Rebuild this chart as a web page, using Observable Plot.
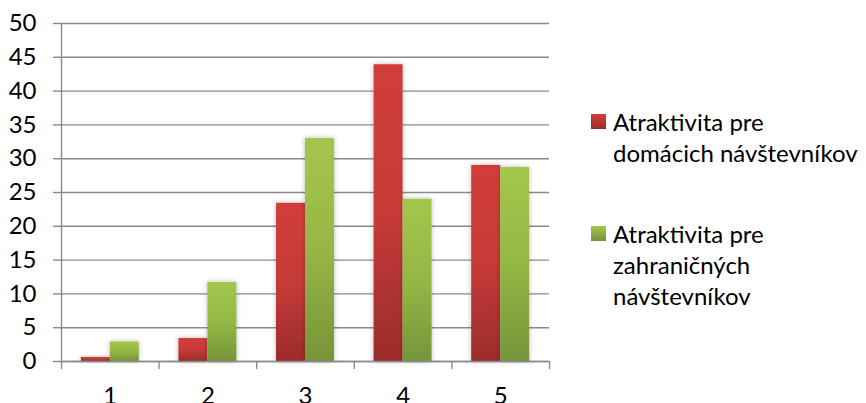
<!DOCTYPE html>
<html>
<head>
<meta charset="utf-8">
<script src="https://cdn.jsdelivr.net/npm/d3@7"></script>
<script src="https://cdn.jsdelivr.net/npm/@observablehq/plot@0.6"></script>
<style>
  html, body { margin: 0; padding: 0; background: #fff; }
  #wrap { position: relative; width: 866px; height: 403px; overflow: hidden; font-family: Lato, "Open Sans", sans-serif; }
  #legend { position: absolute; left: 591px; top: 106px; color: #000; font-size: 24px; line-height: 31px; }
  .item { display: flex; align-items: flex-start; white-space: nowrap; }
  .item + .item { margin-top: 50px; }
  .sw { width: 15px; height: 15px; margin-top: 8px; margin-right: 7px; flex: none; }
</style>
</head>
<body>
<div id="wrap"></div>
<script>
// Hodnotenie atraktivity (stupne 1–5), podiel respondentov v %
const categories = [1, 2, 3, 4, 5];
const domestic = [0.6, 3.4, 23.4, 43.9, 29.0];
const foreign = [2.9, 11.7, 33.0, 24.0, 28.7];
const seriesNames = ["Atraktivita pre domácich návštevníkov", "Atraktivita pre zahraničných návštevníkov"];
const seriesLines = [["Atraktivita pre", "domácich návštevníkov"], ["Atraktivita pre", "zahraničných", "návštevníkov"]];
const yTicks = [0, 5, 10, 15, 20, 25, 30, 35, 40, 45, 50];

const gray = "#8a8a8a";
const barWidth = 0.297; // share of one category slot taken by each bar

const rows = categories.flatMap((c, i) => [
  {cat: c, series: seriesNames[0], value: domestic[i], side: -1},
  {cat: c, series: seriesNames[1], value: foreign[i], side: 0}
]);
const boundaries = [0.5, ...categories.map(c => c + 0.5)];

const chart = Plot.plot({
  width: 866,
  height: 403,
  marginLeft: 61,
  marginRight: 317,
  marginTop: 23,
  marginBottom: 42,
  style: {fontFamily: "Lato, 'Open Sans', sans-serif", fontSize: "24px", color: "#000", background: "#fff"},
  x: {domain: [0.5, 5.5], axis: null},
  y: {domain: [0, 50], axis: null},
  marks: [
    Plot.gridY(yTicks, {stroke: gray, strokeOpacity: 1, strokeWidth: 1.4}),
    Plot.axisY(yTicks, {tickSize: 8, tickPadding: 17, label: null, stroke: gray, strokeOpacity: 1, strokeWidth: 1.4, fill: "#000", fontSize: 24}),
    Plot.ruleX([0.5], {stroke: gray, strokeWidth: 1.4}),
    Plot.axisX(boundaries, {tickSize: 8, label: null, tickFormat: () => "", stroke: gray, strokeOpacity: 1, strokeWidth: 1.4}),
    Plot.axisX(categories, {tickSize: 0, tickPadding: 25, label: null, fill: "#000", fontSize: 24}),
    Plot.rectY(rows, {
      x1: d => d.cat + d.side * barWidth,
      x2: d => d.cat + (d.side + 1) * barWidth,
      y1: 0,
      y2: "value",
      fill: d => d.side < 0 ? "url(#grad-dom)" : "url(#grad-for)",
      title: d => `${d.series}: ${d.value}`
    }),
    Plot.ruleY([0], {stroke: gray, strokeWidth: 1.4})
  ]
});

// gradients and soft shadow for the bars
const svg = d3.select(chart);
const defs = svg.insert("defs", ":first-child");
function grad(id, stops) {
  const g = defs.append("linearGradient").attr("id", id).attr("x1", 0).attr("y1", 0).attr("x2", 0).attr("y2", 1);
  stops.forEach(([o, c]) => g.append("stop").attr("offset", o).attr("stop-color", c));
}
grad("grad-dom", [[0, "#d13e3b"], [0.5, "#c73a38"], [1, "#9b2c2b"]]);
grad("grad-for", [[0, "#a3c74c"], [0.5, "#95b745"], [1, "#76953a"]]);
const f = defs.append("filter").attr("id", "bar-shadow").attr("x", "-30%").attr("y", "-30%").attr("width", "160%").attr("height", "160%");
f.append("feDropShadow").attr("dx", 0).attr("dy", 0).attr("stdDeviation", 2.5).attr("flood-color", "#000").attr("flood-opacity", 0.28);
svg.selectAll("g[aria-label='rect'] rect").attr("filter", "url(#bar-shadow)");

const wrap = document.getElementById("wrap");
wrap.appendChild(chart);

// legend on the right
const legend = d3.select(wrap).append("div").attr("id", "legend");
const swatches = ["linear-gradient(#d13e3b, #9b2c2b)", "linear-gradient(#a3c74c, #76953a)"];
seriesLines.forEach((lines, i) => {
  const item = legend.append("div").attr("class", "item");
  item.append("div").attr("class", "sw").style("background", swatches[i]);
  const t = item.append("div");
  lines.forEach((l, j) => { if (j) t.append("br"); t.append("span").text(l); });
});
</script>
</body>
</html>
